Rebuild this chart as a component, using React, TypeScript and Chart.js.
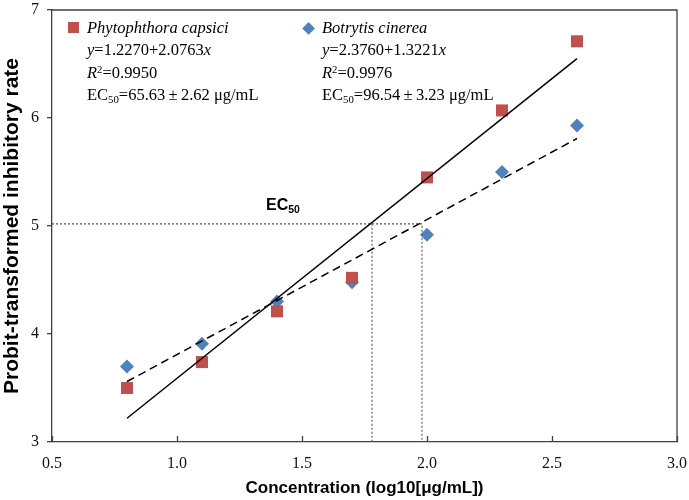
import React, { useEffect, useRef } from 'react';
import { Chart, registerables } from 'chart.js';

Chart.register(...registerables);

// ---- data ----
const concentrations = [0.8, 1.1, 1.4, 1.7, 2.0, 2.3, 2.6];
const phytophthoraProbit = [3.5, 3.74, 4.21, 4.52, 5.45, 6.07, 6.71];
const botrytisProbit = [3.7, 3.91, 4.3, 4.48, 4.92, 5.5, 5.93];
const phytophthoraFitX = [0.8, 2.6];
const phytophthoraFitY = [3.22, 6.55];
const botrytisFitX = [0.8, 2.6];
const botrytisFitY = [3.56, 5.81];
const ec50Level = 5.02;
const ec50Phytophthora = 1.78;
const ec50Botrytis = 1.98;
const xTicks = [0.5, 1.0, 1.5, 2.0, 2.5, 3.0];
const yTicks = [3, 4, 5, 6, 7];

const RED = '#C0504D';
const BLUE = '#4F81BD';
const AXIS = '#404040';

const framePlugin = {
  id: 'frameAndInnerTicks',
  afterDatasetsDraw(chart: any) {
    const { ctx, chartArea } = chart;
    const xs = chart.scales.x;
    ctx.save();
    ctx.strokeStyle = AXIS;
    ctx.lineWidth = 1.3;
    ctx.beginPath();
    ctx.moveTo(chartArea.left, chartArea.top);
    ctx.lineTo(chartArea.right, chartArea.top);
    ctx.lineTo(chartArea.right, chartArea.bottom);
    ctx.stroke();
    ctx.beginPath();
    xTicks.forEach((v) => {
      const px = Math.round(xs.getPixelForValue(v)) + 0.5;
      ctx.moveTo(px, chartArea.bottom);
      ctx.lineTo(px, chartArea.bottom - 6);
    });
    ctx.stroke();
    ctx.restore();
  },
};

const serif = "'Liberation Serif', 'Times New Roman', serif";
const sans = "'Liberation Sans', Arial, sans-serif";

const subStyle: React.CSSProperties = {
  fontSize: '0.65em',
  verticalAlign: 'baseline',
  position: 'relative',
  top: '0.3em',
  lineHeight: 0,
};
const supStyle: React.CSSProperties = {
  fontSize: '0.65em',
  verticalAlign: 'baseline',
  position: 'relative',
  top: '-0.45em',
  lineHeight: 0,
};

function LegendBlock(props: { left: number; name: string; a: string; b: string; r2: string; ec: string; err: string }) {
  return (
    <div
      style={{
        position: 'absolute',
        left: props.left,
        top: 17,
        fontFamily: serif,
        fontSize: 16.5,
        lineHeight: '22.3px',
        color: '#000',
        whiteSpace: 'nowrap',
      }}
    >
      <div style={{ fontStyle: 'italic' }}>{props.name}</div>
      <div>
        <i>y</i>={props.a}+{props.b}
        <i>x</i>
      </div>
      <div>
        <i>R</i>
        <span style={supStyle}>2</span>={props.r2}
      </div>
      <div>
        EC<span style={subStyle}>50</span>={props.ec}{'\u2009±\u2009'}{props.err} μg/mL
      </div>
    </div>
  );
}

export default function App() {
  const canvasRef = useRef<HTMLCanvasElement | null>(null);

  useEffect(() => {
    if (!canvasRef.current) return;
    const pts = (xs: number[], ys: number[]) => xs.map((x, i) => ({ x, y: ys[i] }));
    const chart = new Chart(canvasRef.current, {
      type: 'scatter',
      data: {
        datasets: [
          {
            label: 'P. capsici fit',
            type: 'line',
            data: pts(phytophthoraFitX, phytophthoraFitY),
            borderColor: '#000',
            borderWidth: 1.5,
            pointRadius: 0,
            fill: false,
            order: 0,
          },
          {
            label: 'B. cinerea fit',
            type: 'line',
            data: pts(botrytisFitX, botrytisFitY),
            borderColor: '#000',
            borderWidth: 1.5,
            borderDash: [8, 5],
            pointRadius: 0,
            fill: false,
            order: 0,
          },
          {
            label: 'EC50 guide B',
            type: 'line',
            data: [
              { x: xTicks[0], y: ec50Level },
              { x: ec50Botrytis, y: ec50Level },
              { x: ec50Botrytis, y: yTicks[0] },
            ],
            borderColor: '#555',
            borderWidth: 1.1,
            borderDash: [2, 2],
            pointRadius: 0,
            fill: false,
            order: 1,
          },
          {
            label: 'EC50 guide P',
            type: 'line',
            data: [
              { x: ec50Phytophthora, y: ec50Level },
              { x: ec50Phytophthora, y: yTicks[0] },
            ],
            borderColor: '#555',
            borderWidth: 1.1,
            borderDash: [2, 2],
            pointRadius: 0,
            fill: false,
            order: 1,
          },
          {
            label: 'Phytophthora capsici',
            data: pts(concentrations, phytophthoraProbit),
            pointStyle: 'rect',
            pointRadius: 8.5,
            pointBackgroundColor: RED,
            pointBorderWidth: 0,
            pointBorderColor: RED,
            order: 2,
          },
          {
            label: 'Botrytis cinerea',
            data: pts(concentrations, botrytisProbit),
            pointStyle: 'rectRot',
            pointRadius: 7,
            pointBackgroundColor: BLUE,
            pointBorderWidth: 0,
            pointBorderColor: BLUE,
            order: 3,
          },
        ],
      },
      options: {
        animation: false,
        responsive: false,
        events: [],
        layout: { padding: { top: 10, right: 12, left: 0, bottom: 0 } },
        plugins: { legend: { display: false }, tooltip: { enabled: false } },
        scales: {
          x: {
            type: 'linear',
            min: xTicks[0],
            max: xTicks[xTicks.length - 1],
            afterBuildTicks: (s: any) => {
              s.ticks = xTicks.map((v) => ({ value: v }));
            },
            afterFit: (s: any) => {
              s.height = 58;
              s.paddingLeft = 0;
              s.paddingRight = 0;
            },
            grid: { display: false },
            border: { display: true, color: AXIS, width: 1.3 },
            ticks: {
              padding: 4,
              color: '#111',
              font: { family: serif, size: 16 },
              callback: (v: any) => Number(v).toFixed(1),
            },
            title: {
              display: true,
              text: 'Concentration (log10[μg/mL])',
              color: '#000',
              font: { family: sans, size: 17, weight: 'bold' },
              padding: { top: 0, bottom: 1 },
            },
          },
          y: {
            type: 'linear',
            min: yTicks[0],
            max: yTicks[yTicks.length - 1],
            afterBuildTicks: (s: any) => {
              s.ticks = yTicks.map((v) => ({ value: v }));
            },
            afterFit: (s: any) => {
              s.width = 52;
              s.paddingTop = 0;
              s.paddingBottom = 0;
            },
            grid: { display: true, drawOnChartArea: false, drawTicks: true, tickLength: 5, color: AXIS, lineWidth: 1.3 },
            border: { display: true, color: AXIS, width: 1.3 },
            ticks: {
              padding: 8,
              color: '#111',
              font: { family: serif, size: 16 },
              callback: (v: any) => String(v),
            },
            title: {
              display: true,
              text: 'Probit-transformed inhibitory rate',
              color: '#000',
              font: { family: sans, size: 21, weight: 'bold' },
              padding: { top: 0, bottom: 0 },
            },
          },
        },
      },
      plugins: [framePlugin],
    } as any);
    return () => chart.destroy();
  }, []);

  return (
    <div style={{ position: 'absolute', left: 0, top: 0, width: 689, height: 500, background: '#fff' }}>
      <canvas ref={canvasRef} width={689} height={500} style={{ display: 'block' }} />
      <div style={{ position: 'absolute', left: 67.5, top: 22, width: 11, height: 11, background: RED }} />
      <div
        style={{
          position: 'absolute',
          left: 308.5 - 4.6,
          top: 28.5 - 4.6,
          width: 9.2,
          height: 9.2,
          background: BLUE,
          transform: 'rotate(45deg)',
        }}
      />
      <LegendBlock left={87} name="Phytophthora capsici" a="1.2270" b="2.0763" r2="0.9950" ec="65.63" err="2.62" />
      <LegendBlock left={322} name="Botrytis cinerea" a="2.3760" b="1.3221" r2="0.9976" ec="96.54" err="3.23" />
      <div
        style={{
          position: 'absolute',
          left: 266,
          top: 197,
          fontFamily: sans,
          fontWeight: 'bold',
          fontSize: 16,
          lineHeight: '16px',
          color: '#000',
          whiteSpace: 'nowrap',
        }}
      >
        EC<span style={subStyle}>50</span>
      </div>
    </div>
  );
}
